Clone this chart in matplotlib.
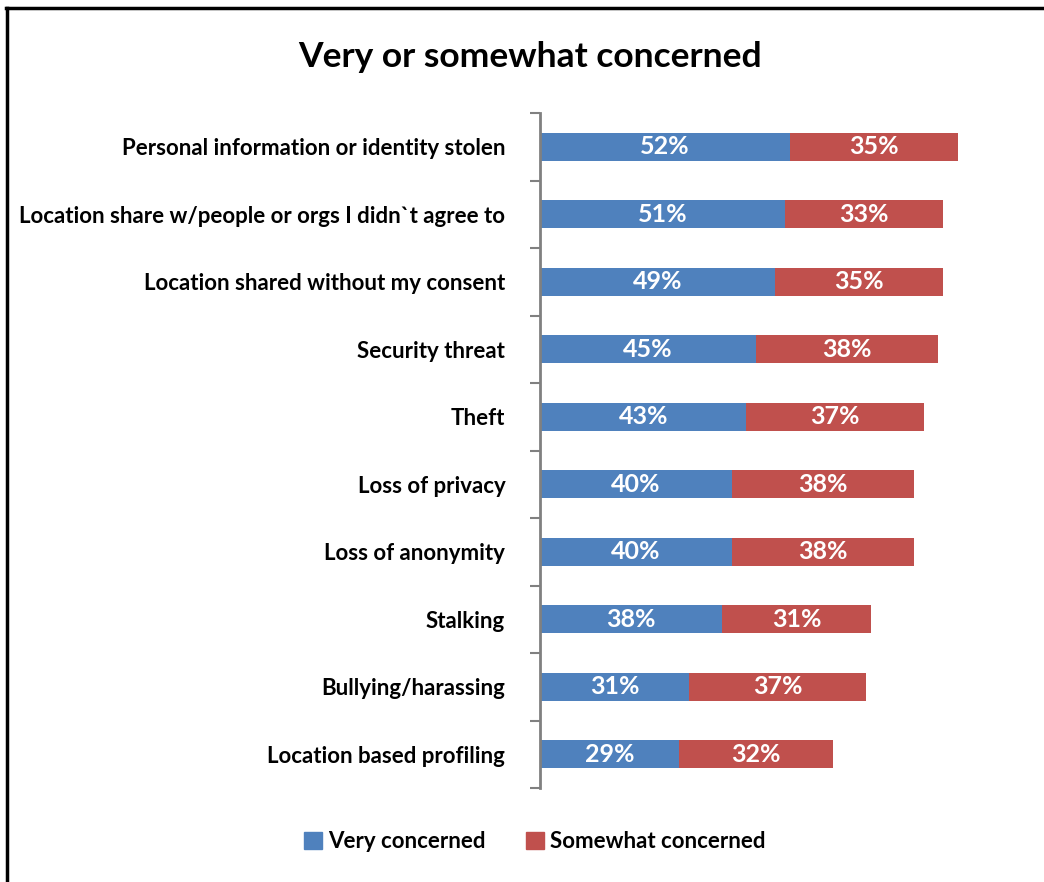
import numpy as np
import matplotlib.pyplot as plt
from matplotlib.patches import Patch
from matplotlib.lines import Line2D

plt.rcParams['font.family'] = ['Lato', 'DejaVu Sans']

categories = ['Personal information or identity stolen',
              "Location share w/people or orgs I didn`t agree to",
              'Location shared without my consent',
              'Security threat',
              'Theft',
              'Loss of privacy',
              'Loss of anonymity',
              'Stalking',
              'Bullying/harassing',
              'Location based profiling']
very = [52, 51, 49, 45, 43, 40, 40, 38, 31, 29]
somewhat = [35, 33, 35, 38, 37, 38, 38, 31, 37, 32]

blue = '#4f81bd'
red = '#c0504d'

fig = plt.figure(figsize=(10.44, 8.82), dpi=100)
ax = fig.add_axes([540/1044, 94/882, 480/1044, 675/882])

y = np.arange(len(categories))
ax.barh(y, very, height=0.41, color=blue)
ax.barh(y, somewhat, left=very, height=0.41, color=red)

for i in range(len(categories)):
    ax.text(very[i]/2, y[i], '%d%%' % very[i], ha='center', va='center',
            color='white', fontsize=18, fontweight='bold')
    ax.text(very[i] + somewhat[i]/2, y[i], '%d%%' % somewhat[i], ha='center',
            va='center', color='white', fontsize=18, fontweight='bold')

ax.set_xlim(0, 100)
ax.set_ylim(len(categories) - 0.5, -0.5)
ax.set_xticks([])
ax.set_yticks(y)
ax.set_yticklabels(categories, fontsize=16, fontweight='bold')
ax.set_yticks(np.arange(-0.5, len(categories)), minor=True)
ax.tick_params(axis='y', which='major', length=0, pad=25)
ax.tick_params(axis='y', which='minor', length=7, width=1.5, color='#808080')
for s in ['top', 'right', 'bottom']:
    ax.spines[s].set_visible(False)
ax.spines['left'].set_color('#808080')
ax.spines['left'].set_linewidth(2)

fig.text(530/1044, 1 - 57/882, 'Very or somewhat concerned', ha='center',
         va='center', fontsize=25.5, fontweight='bold')

handles = [Patch(color=blue, label='Very concerned'),
           Patch(color=red, label='Somewhat concerned')]
fig.legend(handles=handles, loc='center', bbox_to_anchor=(535/1044, 1 - 842/882),
           ncol=2, frameon=False, handlelength=0.8, handleheight=0.8,
           handletextpad=0.3, columnspacing=1.8, prop={'weight': 'bold', 'size': 16})

# frame lines
fig.add_artist(Line2D([6/1044, 1], [1 - 8/882, 1 - 8/882], color='black', lw=2.5,
                      transform=fig.transFigure))
fig.add_artist(Line2D([7/1044, 7/1044], [0, 1 - 8/882], color='black', lw=2.5,
                      transform=fig.transFigure))

fig.savefig('out.png', dpi=100)
